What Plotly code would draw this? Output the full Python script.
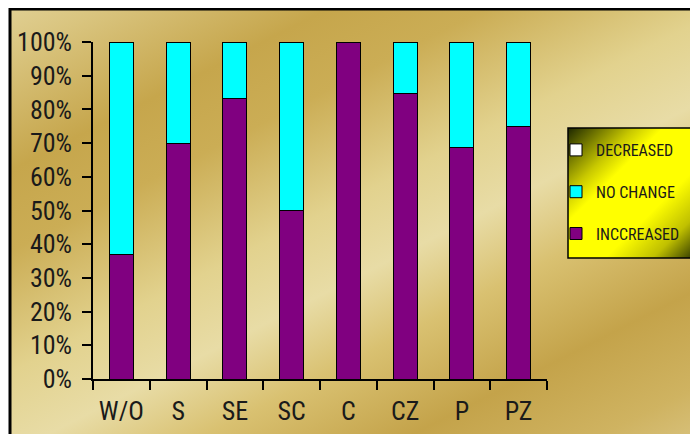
import base64
import plotly.graph_objects as go

categories = ["W/O", "S", "SE", "SC", "C", "CZ", "P", "PZ"]
increased = [36.8, 70.0, 83.3, 50.0, 100.0, 84.6, 68.75, 75.0]
no_change = [63.2, 30.0, 16.7, 50.0, 0.0, 15.4, 31.25, 25.0]
decreased = [0, 0, 0, 0, 0, 0, 0, 0]
y_ticks = [0, 10, 20, 30, 40, 50, 60, 70, 80, 90, 100]

# page offset of the figure (body margin) is 8px
OFF = 8
W, H = 698, 434
# plot area in screen pixels
L, R, T, B = 93, 547, 42, 379


def px(X):
    return (X - L) / (R - L)


def py(Y):
    return (B - Y) / (B - T)


def svg_uri(svg):
    return "data:image/svg+xml;base64," + base64.b64encode(svg.encode()).decode()


bg_stops = [
    (0.00, "#e0cf92"), (0.06, "#d9c47e"), (0.20, "#c6a64c"), (0.30, "#cbad55"),
    (0.45, "#e2d28e"), (0.55, "#e8dca6"), (0.65, "#d9c171"), (0.78, "#c4a34a"),
    (0.90, "#cfb361"), (1.00, "#dcc888"),
]
bg_svg = (
    '<svg xmlns="http://www.w3.org/2000/svg" width="690" height="426" viewBox="0 0 690 426" '
    'preserveAspectRatio="none"><defs><linearGradient id="g" gradientUnits="userSpaceOnUse" '
    'x1="0" y1="0" x2="313" y2="626">'
    + "".join(f'<stop offset="{o}" stop-color="{c}"/>' for o, c in bg_stops)
    + '</linearGradient></defs><rect width="690" height="426" fill="url(#g)"/></svg>'
)

lg_stops = [(0.0, "#1c2600"), (0.25, "#c8c800"), (0.36, "#ffff00"), (0.64, "#ffff00"),
            (0.82, "#c0c000"), (1.0, "#1c2600")]
lg_svg = (
    '<svg xmlns="http://www.w3.org/2000/svg" width="132" height="130" viewBox="0 0 132 130" '
    'preserveAspectRatio="none"><defs><linearGradient id="g" x1="0" y1="0" x2="1" y2="1">'
    + "".join(f'<stop offset="{o}" stop-color="{c}"/>' for o, c in lg_stops)
    + '</linearGradient></defs><rect width="132" height="130" fill="url(#g)"/></svg>'
)

font_fam = "Liberation Sans Narrow, Arial Narrow, Roboto Condensed, Liberation Sans, Arial, sans-serif"

fig = go.Figure()
series = [("INCCREASED", increased, "#800080", 3),
          ("NO CHANGE", no_change, "#00FFFF", 2),
          ("DECREASED", decreased, "#FFFFFF", 1)]
for name, vals, col, rank in series:
    fig.add_trace(go.Bar(
        x=categories, y=vals, name=name, legendgroup=name, legendrank=rank,
        marker=dict(color=col, line=dict(color="#000000", width=1)),
    ))

fig.update_layout(
    width=W, height=H,
    margin=dict(l=L - OFF, r=W - (R - OFF), t=T - OFF, b=H - (B - OFF), pad=0, autoexpand=False),
    barmode="stack", bargap=0.58,
    paper_bgcolor="#ffffff", plot_bgcolor="rgba(0,0,0,0)",
    font=dict(family=font_fam, color="#1a1a1a"),
    showlegend=True,
    legend=dict(
        x=px(556), y=py(133), xanchor="left", yanchor="top",
        bgcolor="rgba(0,0,0,0)", borderwidth=0,
        traceorder="grouped", tracegroupgap=18,
        font=dict(size=16, family=font_fam, color="#1a1a1a"),
    ),
    xaxis=dict(
        automargin=False, tickangle=0,
        showline=True, linecolor="#000000", linewidth=1.5,
        ticks="outside", tickson="boundaries", ticklen=9, tickwidth=1.5, tickcolor="#000000",
        ticklabelstandoff=8,
        tickfont=dict(size=26, family=font_fam, color="#1a1a1a"),
        showgrid=False, zeroline=False,
    ),
    yaxis=dict(
        automargin=False,
        range=[0, 100], tickvals=y_ticks, ticktext=[f"{v}%" for v in y_ticks],
        showline=True, linecolor="#000000", linewidth=1.5,
        ticks="outside", ticklen=9, tickwidth=1.5, tickcolor="#000000",
        ticklabelstandoff=5,
        tickfont=dict(size=26, family=font_fam, color="#1a1a1a"),
        showgrid=False, zeroline=False,
    ),
    images=[
        dict(source=svg_uri(bg_svg), xref="paper", yref="paper", x=px(10), y=py(9),
             sizex=700 / (R - L), sizey=440 / (B - T), xanchor="left", yanchor="top",
             sizing="stretch", layer="below"),
        dict(source=svg_uri(lg_svg), xref="paper", yref="paper", x=px(568), y=py(128),
             sizex=132 / (R - L), sizey=130 / (B - T), xanchor="left", yanchor="top",
             sizing="stretch", layer="above"),
    ],
    shapes=[
        dict(type="rect", xref="paper", yref="paper", x0=px(10), y0=py(9), x1=px(730), y1=py(470),
             line=dict(color="#000000", width=3), fillcolor="rgba(0,0,0,0)", layer="above"),
        dict(type="rect", xref="paper", yref="paper", x0=px(568), y0=py(128), x1=px(730), y1=py(258),
             line=dict(color="#000000", width=1.5), fillcolor="rgba(0,0,0,0)", layer="above"),
    ],
)

fig.write_html("out.html")
